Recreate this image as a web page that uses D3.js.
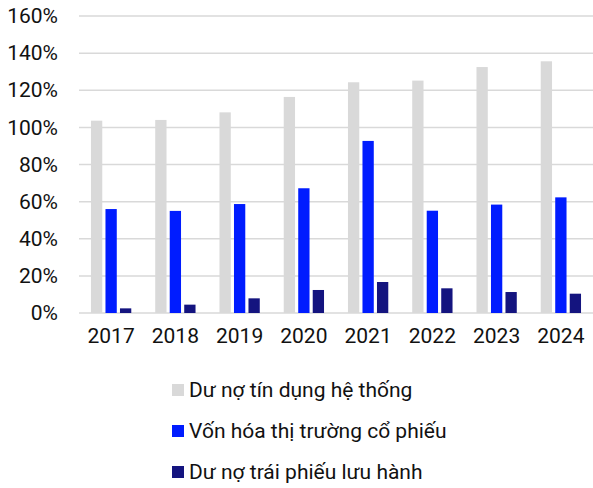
<!DOCTYPE html>
<html>
<head>
<meta charset="utf-8">
<script src="https://cdn.jsdelivr.net/npm/d3@7"></script>
<style>
body { margin: 0; background: #fff; }
text { font-family: Roboto, "Noto Sans", sans-serif; fill: #111; }
</style>
</head>
<body>
<svg width="593" height="488"></svg>
<script>
var years = ["2017", "2018", "2019", "2020", "2021", "2022", "2023", "2024"]
var creditDebt = [103.6, 104.0, 108.1, 116.4, 124.3, 125.2, 132.5, 135.6]
var stockCap = [56.0, 55.0, 58.7, 67.2, 92.7, 55.1, 58.4, 62.3]
var bondDebt = [2.5, 4.5, 7.9, 12.4, 16.7, 13.3, 11.3, 10.4]
var seriesNames = ["Dư nợ tín dụng hệ thống", "Vốn hóa thị trường cổ phiếu", "Dư nợ trái phiếu lưu hành"]
var yTicks = [0, 20, 40, 60, 80, 100, 120, 140, 160]

function main(){
	var colors = ["#d9d9d9", "#001cff", "#14147f"]
	var series = [creditDebt, stockCap, bondDebt]

	var margin = {top: 16, right: 0, bottom: 175, left: 79};
	var width = 593 - margin.left - margin.right;
	var height = 488 - margin.top - margin.bottom;

	var svg = d3.select("svg")
	var canvas = svg.append("g")
	.attr("transform", "translate(" + margin.left + "," + margin.top + ")")

	var xScale = d3.scaleBand().domain(years).range([0, width])
	var yScale = d3.scaleLinear().domain([0, 160]).range([height, 0])

	// gridlines
	canvas.append("g").selectAll("line").data(yTicks).enter().append("line")
	.attr("x1", 0).attr("x2", width)
	.attr("y1", d => yScale(d)).attr("y2", d => yScale(d))
	.attr("stroke", "#d9d9d9").attr("stroke-width", 1.5)

	// y labels
	var yAxis = d3.axisLeft(yScale).tickValues(yTicks).tickFormat(d => d + "%").tickSize(0).tickPadding(21)
	var gy = canvas.append("g").call(yAxis)
	gy.select(".domain").remove()
	gy.selectAll("text").style("font-size", "21px").attr("fill", "#111")

	// x labels
	var xAxis = d3.axisBottom(xScale).tickSize(0).tickPadding(15)
	var gx = canvas.append("g").attr("transform", "translate(0," + height + ")").call(xAxis)
	gx.select(".domain").remove()
	gx.selectAll("text").style("font-size", "21px").attr("fill", "#111")

	// bars
	var barW = 11.3
	var offsets = [-14.5, 0, 14.5]
	series.forEach(function(vals, s){
		canvas.append("g").selectAll("rect").data(vals).enter().append("rect")
		.attr("x", (d, i) => xScale(years[i]) + xScale.bandwidth() / 2 + offsets[s] - barW / 2)
		.attr("width", barW)
		.attr("y", d => yScale(d))
		.attr("height", d => height - yScale(d))
		.attr("fill", colors[s])
	})

	// legend
	var legend = svg.append("g").attr("transform", "translate(172,390)")
	var items = legend.selectAll("g").data(seriesNames).enter().append("g")
	.attr("transform", (d, i) => "translate(0," + (i * 41) + ")")
	items.append("rect").attr("x", 0).attr("y", -6).attr("width", 12).attr("height", 12)
	.attr("fill", (d, i) => colors[i])
	items.append("text").attr("x", 17).attr("y", 0).attr("dy", "0.35em")
	.style("font-size", "21px").text(d => d)
}

window.onload = function() {
	main()
};
</script>
</body>
</html>
